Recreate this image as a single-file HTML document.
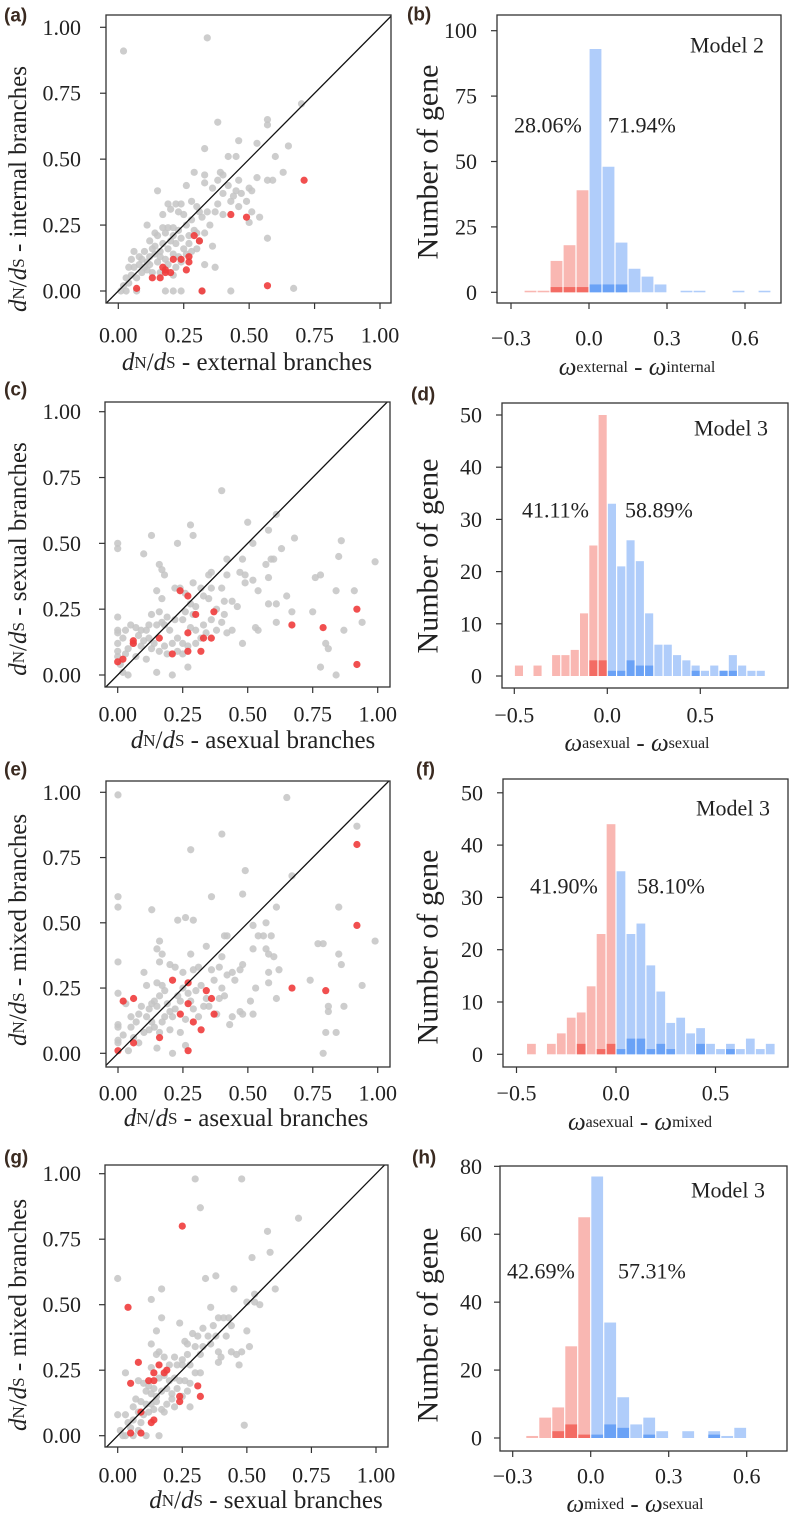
<!DOCTYPE html>
<html><head><meta charset="utf-8"><style>
html,body{margin:0;padding:0;background:#fff;}
svg{display:block;font-family:"Liberation Serif",serif;}
</style></head><body>
<svg id="fig" width="790" height="1513" viewBox="0 0 790 1513" xmlns="http://www.w3.org/2000/svg"></svg>
<script>
// ---------- DATA ----------
const scatterA_gray=[[0.02,0.91],[0.34,0.96],[0.70,0.71],[0.57,0.65],[0.57,0.63],[0.38,0.64],[0.46,0.57],[0.53,0.56],[0.65,0.55],[0.60,0.51],[0.42,0.51],[0.45,0.51],[0.33,0.54],[0.63,0.45],[0.57,0.42],[0.59,0.42],[0.46,0.42],[0.50,0.39],[0.51,0.38],[0.53,0.43],[0.49,0.34],[0.51,0.30],[0.54,0.28],[0.50,0.26],[0.57,0.20],[0.67,0.01],[0.43,0.00],[0.32,0.00],[0.24,0.00],[0.21,0.00],[0.18,0.00],[0.07,0.00],[0.29,0.45],[0.33,0.44],[0.39,0.45],[0.40,0.44],[0.38,0.42],[0.42,0.40],[0.45,0.38],[0.44,0.36],[0.47,0.37],[0.40,0.37],[0.36,0.39],[0.33,0.41],[0.15,0.38],[0.26,0.40],[0.28,0.34],[0.30,0.32],[0.24,0.33],[0.22,0.33],[0.19,0.33],[0.20,0.31],[0.23,0.30],[0.17,0.29],[0.25,0.29],[0.31,0.30],[0.34,0.30],[0.37,0.30],[0.40,0.29],[0.38,0.33],[0.43,0.34],[0.46,0.32],[0.11,0.25],[0.17,0.24],[0.19,0.24],[0.21,0.24],[0.23,0.23],[0.26,0.25],[0.28,0.27],[0.29,0.23],[0.14,0.22],[0.15,0.21],[0.18,0.22],[0.21,0.21],[0.24,0.20],[0.27,0.21],[0.30,0.22],[0.33,0.22],[0.36,0.17],[0.30,0.16],[0.27,0.18],[0.25,0.16],[0.22,0.18],[0.20,0.19],[0.17,0.18],[0.14,0.17],[0.12,0.19],[0.10,0.15],[0.06,0.15],[0.09,0.12],[0.12,0.13],[0.14,0.14],[0.16,0.15],[0.19,0.16],[0.21,0.14],[0.23,0.13],[0.26,0.14],[0.18,0.12],[0.15,0.11],[0.12,0.10],[0.10,0.09],[0.08,0.10],[0.06,0.09],[0.04,0.09],[0.05,0.06],[0.07,0.05],[0.09,0.07],[0.11,0.08],[0.13,0.07],[0.03,0.05],[0.04,0.03],[0.02,0.02],[0.01,0.00],[0.03,0.00],[0.22,0.09],[0.21,0.06],[0.33,0.10],[0.37,0.09],[0.16,0.07],[0.19,0.10],[0.24,0.11],[0.28,0.15],[0.31,0.19],[0.35,0.25],[0.32,0.28],[0.13,0.16],[0.16,0.13],[0.08,0.13],[0.11,0.11],[0.05,0.12]];
const scatterA_red=[[0.71,0.42],[0.43,0.29],[0.49,0.28],[0.29,0.21],[0.31,0.19],[0.27,0.13],[0.27,0.11],[0.21,0.12],[0.24,0.12],[0.26,0.08],[0.17,0.09],[0.18,0.08],[0.18,0.07],[0.20,0.07],[0.13,0.05],[0.16,0.05],[0.07,0.01],[0.32,0.00],[0.57,0.02]];
const scatterC_gray=[[0.40,0.70],[0.61,0.61],[0.50,0.58],[0.28,0.57],[0.29,0.53],[0.58,0.55],[0.13,0.53],[0.23,0.50],[0.00,0.50],[0.00,0.48],[0.10,0.46],[0.52,0.50],[0.63,0.48],[0.68,0.52],[0.86,0.51],[0.85,0.45],[0.57,0.42],[0.58,0.37],[0.59,0.44],[0.60,0.44],[0.48,0.44],[0.42,0.44],[0.16,0.42],[0.17,0.40],[0.18,0.38],[0.35,0.38],[0.36,0.39],[0.42,0.38],[0.47,0.39],[0.49,0.38],[0.52,0.36],[0.49,0.35],[0.29,0.35],[0.32,0.33],[0.36,0.33],[0.40,0.33],[0.54,0.32],[0.76,0.37],[0.78,0.38],[0.84,0.32],[0.91,0.32],[0.99,0.43],[0.65,0.30],[0.58,0.27],[0.61,0.27],[0.67,0.24],[0.75,0.24],[0.94,0.20],[0.61,0.20],[0.53,0.18],[0.54,0.17],[0.48,0.12],[0.87,0.17],[0.80,0.12],[0.81,0.10],[0.78,0.03],[0.84,0.00],[0.21,0.00],[0.15,0.01],[0.27,0.03],[0.15,0.32],[0.17,0.29],[0.22,0.33],[0.24,0.33],[0.26,0.31],[0.28,0.27],[0.30,0.26],[0.33,0.30],[0.35,0.29],[0.38,0.25],[0.41,0.28],[0.41,0.23],[0.44,0.28],[0.46,0.26],[0.40,0.20],[0.38,0.17],[0.42,0.16],[0.44,0.17],[0.36,0.21],[0.33,0.19],[0.30,0.17],[0.28,0.18],[0.25,0.21],[0.22,0.21],[0.19,0.22],[0.16,0.24],[0.13,0.23],[0.17,0.20],[0.20,0.17],[0.18,0.19],[0.15,0.19],[0.12,0.19],[0.11,0.17],[0.09,0.17],[0.07,0.18],[0.05,0.19],[0.03,0.17],[0.00,0.17],[0.00,0.16],[0.00,0.22],[0.02,0.14],[0.00,0.12],[0.04,0.10],[0.07,0.07],[0.09,0.11],[0.10,0.13],[0.12,0.14],[0.14,0.12],[0.13,0.10],[0.16,0.09],[0.18,0.11],[0.19,0.08],[0.21,0.12],[0.23,0.14],[0.25,0.12],[0.27,0.11],[0.30,0.12],[0.32,0.14],[0.34,0.16],[0.23,0.09],[0.25,0.08],[0.00,0.09],[0.01,0.04],[0.03,0.08],[0.00,0.07],[0.04,0.00],[0.06,0.12],[0.08,0.15],[0.11,0.06],[0.02,0.01],[0.29,0.23],[0.26,0.24]];
const scatterC_red=[[0.24,0.32],[0.27,0.30],[0.30,0.23],[0.37,0.24],[0.27,0.16],[0.16,0.14],[0.06,0.13],[0.06,0.12],[0.33,0.14],[0.36,0.14],[0.27,0.09],[0.32,0.09],[0.21,0.08],[0.00,0.05],[0.02,0.06],[0.67,0.19],[0.79,0.18],[0.92,0.25],[0.92,0.04]];
const scatterE_gray=[[0.00,0.99],[0.65,0.98],[0.92,0.87],[0.40,0.84],[0.28,0.78],[0.49,0.70],[0.67,0.68],[0.48,0.61],[0.36,0.60],[0.00,0.60],[0.00,0.56],[0.13,0.55],[0.61,0.56],[0.85,0.56],[0.23,0.51],[0.26,0.52],[0.29,0.51],[0.52,0.49],[0.57,0.50],[0.41,0.45],[0.42,0.45],[0.54,0.45],[0.56,0.45],[0.59,0.45],[0.16,0.43],[0.34,0.41],[0.15,0.40],[0.17,0.38],[0.28,0.38],[0.40,0.37],[0.52,0.40],[0.57,0.40],[0.58,0.38],[0.60,0.37],[0.77,0.42],[0.79,0.42],[0.85,0.38],[0.86,0.34],[0.99,0.43],[0.00,0.35],[0.10,0.31],[0.16,0.35],[0.20,0.34],[0.22,0.33],[0.25,0.31],[0.29,0.32],[0.31,0.33],[0.36,0.32],[0.39,0.33],[0.42,0.30],[0.44,0.31],[0.47,0.32],[0.48,0.34],[0.62,0.32],[0.58,0.31],[0.58,0.27],[0.53,0.25],[0.45,0.28],[0.74,0.28],[0.94,0.26],[0.61,0.21],[0.51,0.20],[0.47,0.16],[0.48,0.15],[0.52,0.15],[0.38,0.15],[0.44,0.14],[0.43,0.11],[0.81,0.18],[0.81,0.16],[0.87,0.18],[0.80,0.08],[0.84,0.08],[0.79,0.00],[0.21,0.00],[0.15,0.02],[0.26,0.03],[0.00,0.23],[0.03,0.19],[0.00,0.11],[0.00,0.10],[0.00,0.05],[0.00,0.04],[0.04,0.01],[0.02,0.07],[0.05,0.10],[0.07,0.12],[0.08,0.15],[0.09,0.18],[0.11,0.14],[0.12,0.17],[0.13,0.19],[0.14,0.20],[0.15,0.18],[0.16,0.22],[0.17,0.26],[0.18,0.24],[0.19,0.19],[0.20,0.16],[0.21,0.14],[0.22,0.17],[0.23,0.22],[0.24,0.20],[0.25,0.25],[0.27,0.23],[0.28,0.20],[0.30,0.24],[0.32,0.26],[0.34,0.21],[0.35,0.18],[0.37,0.28],[0.39,0.21],[0.40,0.25],[0.41,0.22],[0.18,0.14],[0.17,0.12],[0.14,0.10],[0.12,0.09],[0.10,0.08],[0.06,0.06],[0.08,0.04],[0.13,0.12],[0.16,0.08],[0.20,0.09],[0.24,0.08],[0.26,0.13],[0.29,0.17],[0.31,0.14],[0.33,0.18],[0.05,0.14],[0.11,0.26],[0.15,0.27]];
const scatterE_red=[[0.92,0.80],[0.92,0.49],[0.21,0.28],[0.27,0.27],[0.34,0.24],[0.36,0.21],[0.27,0.19],[0.24,0.15],[0.37,0.15],[0.29,0.12],[0.32,0.09],[0.16,0.06],[0.06,0.04],[0.00,0.01],[0.27,0.01],[0.02,0.20],[0.06,0.21],[0.67,0.25],[0.80,0.24]];
const scatterG_gray=[[0.30,0.98],[0.48,0.98],[0.32,0.87],[0.70,0.83],[0.58,0.78],[0.59,0.70],[0.52,0.68],[0.00,0.60],[0.34,0.60],[0.38,0.61],[0.17,0.56],[0.45,0.56],[0.61,0.56],[0.13,0.52],[0.53,0.54],[0.50,0.51],[0.53,0.51],[0.55,0.50],[0.36,0.49],[0.39,0.45],[0.17,0.45],[0.24,0.43],[0.41,0.45],[0.43,0.45],[0.44,0.42],[0.37,0.42],[0.33,0.41],[0.15,0.40],[0.50,0.40],[0.29,0.39],[0.31,0.38],[0.35,0.38],[0.38,0.38],[0.42,0.38],[0.13,0.35],[0.26,0.36],[0.27,0.35],[0.30,0.34],[0.33,0.34],[0.36,0.35],[0.39,0.32],[0.40,0.30],[0.44,0.32],[0.46,0.31],[0.48,0.32],[0.51,0.34],[0.47,0.27],[0.39,0.28],[0.16,0.32],[0.15,0.31],[0.18,0.30],[0.22,0.30],[0.25,0.29],[0.27,0.31],[0.32,0.31],[0.20,0.27],[0.23,0.27],[0.25,0.27],[0.28,0.27],[0.13,0.26],[0.30,0.24],[0.32,0.24],[0.03,0.24],[0.08,0.21],[0.10,0.20],[0.12,0.19],[0.14,0.18],[0.16,0.22],[0.18,0.23],[0.20,0.21],[0.22,0.22],[0.24,0.21],[0.26,0.21],[0.28,0.20],[0.11,0.17],[0.13,0.16],[0.15,0.15],[0.17,0.17],[0.19,0.18],[0.21,0.16],[0.23,0.18],[0.25,0.15],[0.27,0.17],[0.07,0.14],[0.09,0.13],[0.11,0.12],[0.13,0.12],[0.15,0.13],[0.17,0.10],[0.19,0.12],[0.21,0.14],[0.22,0.11],[0.28,0.11],[0.06,0.11],[0.08,0.09],[0.10,0.08],[0.12,0.09],[0.14,0.10],[0.18,0.09],[0.00,0.08],[0.03,0.08],[0.04,0.05],[0.06,0.06],[0.09,0.05],[0.01,0.02],[0.02,0.00],[0.03,0.00],[0.06,0.00],[0.11,0.00],[0.16,0.00],[0.49,0.04],[0.05,0.03],[0.08,0.02]];
const scatterG_red=[[0.25,0.80],[0.04,0.49],[0.08,0.28],[0.16,0.27],[0.19,0.25],[0.14,0.24],[0.18,0.24],[0.12,0.21],[0.14,0.21],[0.05,0.20],[0.31,0.19],[0.32,0.15],[0.24,0.15],[0.24,0.13],[0.09,0.09],[0.14,0.06],[0.13,0.05],[0.05,0.01],[0.09,0.01]];
const scatterTicks=[0,0.25,0.5,0.75,1];
const scatterTickLabels=["0.00","0.25","0.50","0.75","1.00"];

const histB_bins=[-0.25,-0.2,-0.15,-0.1,-0.05,0,0.05,0.1,0.15,0.2,0.25,0.35,0.4,0.55,0.65];
const histB_counts=[0.6,0.6,12,18,39,93,48,19,9,6,3,0.6,0.6,0.6,0.6];
const histB_dark=[0,0,2,2,2,3,3,3,0,0,0,0,0,0,0];
const histD_bins=[-0.5,-0.4,-0.3,-0.25,-0.2,-0.15,-0.1,-0.05,0,0.05,0.1,0.15,0.2,0.25,0.3,0.35,0.4,0.45,0.5,0.55,0.6,0.65,0.7,0.75,0.8];
const histD_counts=[2,2,4,4,5,12,25,50,33,21,26,22,12,6,6,4,3,2,1,2,1,4,2,1,1];
const histD_dark=[0,0,0,0,0,0,3,3,1,1,3,2,2,0,0,0,0,1,0,0,1,1,0,0,0];
const histF_bins=[-0.45,-0.35,-0.3,-0.25,-0.2,-0.15,-0.1,-0.05,0,0.05,0.1,0.15,0.2,0.25,0.3,0.35,0.4,0.45,0.5,0.55,0.6,0.65,0.7,0.75];
const histF_counts=[2,2,4,7,8,13,23,44,35,23,25,17,12,6,7,4,5,2,1,2,1,3,1,2];
const histF_dark=[0,0,0,0,2,0,1,2,1,3,3,1,2,1,0,0,2,0,0,1,0,0,0,0];
const histH_bins=[-0.25,-0.2,-0.15,-0.1,-0.05,0,0.05,0.1,0.15,0.2,0.25,0.35,0.45,0.5,0.55];
const histH_counts=[0.6,6,9,27,65,77,34,12,4,6,2,2,2,0.6,3];
const histH_dark=[0,0,2,4,1,1,4,3,0,1,0,0,1,0,0];
const ticksB=[-0.3,0,0.3,0.6], ticksBLabels=["\u22120.3","0.0","0.3","0.6"];
const ticksD=[-0.5,0,0.5], ticksDLabels=["\u22120.5","0.0","0.5"];
const yTicksB=[0,25,50,75,100];
const yTicksD=[0,10,20,30,40,50];
const yTicksH=[0,20,40,60,80];

// ---------- DRAWING ----------
const NS="http://www.w3.org/2000/svg";
const svg=document.getElementById('fig');
function el(tag,attrs,parent){const e=document.createElementNS(NS,tag);for(const k in attrs)e.setAttribute(k,attrs[k]);(parent||svg).appendChild(e);return e;}
function txt(str,x,y,size,anchor,parent,extra){const t=el('text',Object.assign({x:x,y:y,'font-size':size,'text-anchor':anchor||'middle','dominant-baseline':'central',fill:'#222'},extra||{}),parent);t.textContent=str;return t;}

function panelLabel(s,x,y){
  const t=txt(s,x,y,19,'start',svg,{'font-family':'Liberation Sans, sans-serif','font-weight':'bold',fill:'#3a2a20'});
  
  
}

function dnds(parent,x,y,rest,rotate){
  const t=el('text',{x:x,y:y,'font-size':25,'text-anchor':'middle','dominant-baseline':'central',fill:'#222'},parent);
  if(rotate) t.setAttribute('transform','rotate(-90 '+x+' '+y+')');
  const parts=[['d',{'font-style':'italic'}],['N',{'font-size':17}],['/',{}],['d',{'font-style':'italic'}],['S',{'font-size':17}],[' - '+rest,{}]];
  parts.forEach(p=>{const s=el('tspan',p[1],t);s.textContent=p[0];});
  return t;
}

function scatter(id,box,sx,sy,gray,red,xt,xtitle,ytitle){
  const g=el('g',{});
  
  
  const X=v=>sx[0]+v*(sx[1]-sx[0]);
  const Y=v=>sy[0]+v*(sy[1]-sy[0]);
  const cp=el('clipPath',{id:'clip'+id},g);
  el('rect',{x:box[0],y:box[1],width:box[2]-box[0],height:box[3]-box[1]},cp);
  const pts=el('g',{'clip-path':'url(#clip'+id+')'},g);
  gray.forEach(p=>{const c=el('circle',{cx:X(p[0]),cy:Y(p[1]),r:3.6,fill:'#c4c4c4','fill-opacity':0.85},pts);
    
    });
  red.forEach(p=>{const c=el('circle',{cx:X(p[0]),cy:Y(p[1]),r:3.6,fill:'#f03c3c','fill-opacity':0.9},pts);
    
    });
  const dl=el('line',{x1:X(-0.1),y1:Y(-0.1),x2:X(1.1),y2:Y(1.1),stroke:'#111','stroke-width':1.3},pts);
  
  
  const fr=el('rect',{x:box[0],y:box[1],width:box[2]-box[0],height:box[3]-box[1],fill:'none',stroke:'#333','stroke-width':1.3},g);
  
  
  scatterTicks.forEach((v,i)=>{
    el('line',{x1:X(v),x2:X(v),y1:box[3],y2:box[3]+6,stroke:'#333','stroke-width':1.2},g);
    const a=txt(scatterTickLabels[i],X(v),xt,22,'middle',g);
    
    
    el('line',{x1:box[0]-6,x2:box[0],y1:Y(v),y2:Y(v),stroke:'#333','stroke-width':1.2},g);
    const b=txt(scatterTickLabels[i],81,Y(v),22,'end',g);
    
    
  });
  const xa=dnds(g,xtitle[0],xtitle[1],xtitle[2],false);
  
  
  const ya=dnds(g,ytitle[0],ytitle[1],ytitle[2],true);
  
  
}

function hist(id,box,x0,xu,y0,yu,bins,counts,dark,xticks,xlabels,yticks,ytLabX,xt,xtitle,ytitleY,pct,model){
  const g=el('g',{});
  
  
  const X=v=>x0+v*xu;
  const Y=v=>y0-v*yu;
  const w=0.05;
  bins.forEach((b,i)=>{
    const neg=b<0;
    const r=el('rect',{x:X(b)+0.6,y:Y(counts[i]),width:w*xu-1.2,height:counts[i]*yu,fill:neg?'#f9b7b2':'#b0cdfa'},g);
    
    
    if(dark[i]>0){
      const d=el('rect',{x:X(b)+0.6,y:Y(dark[i]),width:w*xu-1.2,height:dark[i]*yu,fill:neg?'#f36c64':'#6aa2f6'},g);
      
      
    }
  });
  const fr=el('rect',{x:box[0],y:box[1],width:box[2]-box[0],height:box[3]-box[1],fill:'none',stroke:'#333','stroke-width':1.3},g);
  
  
  xticks.forEach((v,i)=>{
    el('line',{x1:X(v),x2:X(v),y1:box[3],y2:box[3]+6,stroke:'#333','stroke-width':1.2},g);
    const a=txt(xlabels[i],X(v),xt,22,'middle',g);
    
    
  });
  yticks.forEach(v=>{
    el('line',{x1:box[0]-6,x2:box[0],y1:Y(v),y2:Y(v),stroke:'#333','stroke-width':1.2},g);
    const b=txt(String(v),ytLabX,Y(v),22,'end',g);
    
    
  });
  const t=el('text',{x:xtitle[0],y:xtitle[1],'font-size':25,'text-anchor':'middle','dominant-baseline':'central',fill:'#222'},g);
  [['\u03c9',{'font-style':'italic'}],[xtitle[2],{'font-size':16}],[' - ',{}],['\u03c9',{'font-style':'italic'}],[xtitle[3],{'font-size':16}]].forEach(p=>{const s=el('tspan',p[1],t);s.textContent=p[0];});
  
  
  const yt=txt('Number of gene',428,ytitleY,30,'middle',g,{transform:'rotate(-90 428 '+ytitleY+')'});
  
  
  const p1=txt(pct[0],pct[1],pct[4],22,'start',g);
  
  
  const p2=txt(pct[2],pct[3],pct[4],22,'start',g);
  
  
  const m=txt(model[0],model[1],model[2],22,'start',g);
  
  
}

panelLabel('(a)',4,16); panelLabel('(b)',407,15);
panelLabel('(c)',4,390); panelLabel('(d)',411,395);
panelLabel('(e)',4,770); panelLabel('(f)',416,770);
panelLabel('(g)',4,1158); panelLabel('(h)',412,1158);

scatter('a',[106,15,391,303],[118.3,380],[291,27.3],scatterA_gray,scatterA_red,335,[247,362,'external branches'],[18,189,'internal branches']);
scatter('c',[105,402,390,687],[117.7,377.7],[675,411.7],scatterC_gray,scatterC_red,714,[253,740,'asexual branches'],[18,559,'sexual branches']);
scatter('e',[106,781,390,1067],[118,377.7],[1053.3,792.3],scatterE_gray,scatterE_red,1093,[246,1118,'asexual branches'],[18,930,'mixed branches']);
scatter('g',[105,1165,388,1447],[117.7,376],[1435.7,1173.7],scatterG_gray,scatterG_red,1475,[266,1500,'sexual branches'],[18,1315,'mixed branches']);

hist('b',[497,15,781,303],589,260,292.3,2.616,histB_bins,histB_counts,histB_dark,ticksB,ticksBLabels,yTicksB,477,338,[637,367,'external','internal'],162,['28.06%',514,'71.94%',608,125],['Model 2',690,45]);
hist('d',[502,403,788,688],607.3,186,676,5.22,histD_bins,histD_counts,histD_dark,ticksD,ticksDLabels,yTicksD,482,715,[637,743,'asexual','sexual'],556,['41.11%',522,'58.89%',625,510],['Model 3',694,428]);
hist('f',[503,779,788,1067],616,199,1054.3,5.23,histF_bins,histF_counts,histF_dark,ticksD,ticksDLabels,yTicksD,483,1093,[640,1122,'asexual','mixed'],947,['41.90%',530,'58.10%',637,886],['Model 3',696,808]);
hist('h',[500,1166,787,1451],590.7,260,1438,3.396,histH_bins,histH_counts,histH_dark,ticksB,ticksBLabels,yTicksH,482,1476,[635,1504,'mixed','sexual'],1325,['42.69%',507,'57.31%',618,1271],['Model 3',691,1190]);
</script>
</body></html>
